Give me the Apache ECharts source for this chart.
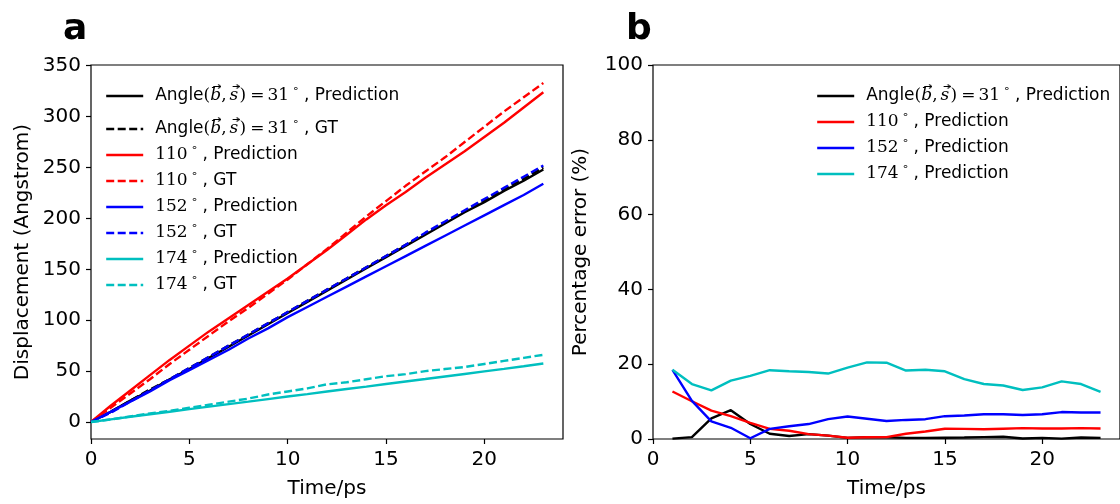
<!DOCTYPE html>
<html>
<head>
<meta charset="utf-8">
<script src="https://cdn.jsdelivr.net/npm/echarts@6/dist/echarts.min.js"></script>
<style>
  html, body { margin: 0; padding: 0; background: #fff; }
  #main { width: 1120px; height: 504px; }
</style>
</head>
<body>
<div id="main"></div>
<script>
// panel a: displacement vs time
var timeA = [0, 1, 2, 3, 4, 5, 6, 7, 8, 9, 10, 11, 12, 13, 14, 15, 16, 17, 18, 19, 20, 21, 22, 23];
var pred31  = [0, 10, 21, 31, 42, 52, 63, 74, 85, 96, 107, 118, 129, 140, 151, 162, 173, 184, 195, 206, 216, 227, 237, 248];
var gt31    = [0, 10, 21, 32, 42, 53, 64, 75, 86, 97, 108, 119, 130, 141, 152, 163, 174, 185, 196, 207, 218, 229, 239, 250];
var pred110 = [0, 16, 31, 46, 61, 75, 89, 102, 115, 128, 141, 155, 169, 184, 199, 213, 226, 240, 253, 266, 280, 294, 309, 324];
var gt110   = [0, 14, 28, 42, 57, 71, 85, 99, 112, 126, 140, 155, 170, 186, 202, 217, 232, 246, 260, 275, 290, 305, 319, 333];
var pred152 = [0, 10, 20, 30, 41, 51, 61, 71, 82, 92, 103, 113, 123, 133, 143, 153, 163, 173, 183, 193, 203, 213, 223, 234];
var gt152   = [0, 9, 20, 31, 42, 53, 64, 75, 86, 97, 108, 119, 130, 141, 152, 163, 174, 186, 197, 208, 219, 230, 241, 252];
var pred174 = [0, 2.6, 5.1, 7.6, 10.1, 12.6, 15.1, 17.6, 20.0, 22.5, 25.0, 27.4, 29.9, 32.4, 34.8, 37.3, 39.8, 42.2, 44.7, 47.2, 49.7, 52.2, 54.8, 57.5];
var gt174   = [0, 2.5, 5.5, 8.5, 11, 14, 17, 20, 23, 27, 30, 33, 37, 39, 42, 45, 47, 50, 52, 54, 57, 60, 63, 66];

// panel b: percentage error vs time
var timeB = [1, 2, 3, 4, 5, 6, 7, 8, 9, 10, 11, 12, 13, 14, 15, 16, 17, 18, 19, 20, 21, 22, 23];
var err31  = [0.1, 0.5, 5.5, 7.7, 4.0, 1.4, 0.8, 1.3, 0.9, 0.3, 0.5, 0.45, 0.3, 0.3, 0.35, 0.4, 0.5, 0.6, 0.15, 0.3, 0.1, 0.4, 0.3];
var err110 = [12.7, 10.1, 7.6, 6.1, 4.3, 2.7, 2.2, 1.3, 0.9, 0.35, 0.45, 0.5, 1.4, 2.0, 2.75, 2.7, 2.6, 2.75, 2.9, 2.8, 2.8, 2.9, 2.8];
var err152 = [18.5, 10.2, 4.7, 3.0, 0.2, 2.7, 3.4, 4.0, 5.3, 6.0, 5.4, 4.8, 5.1, 5.3, 6.1, 6.3, 6.6, 6.6, 6.4, 6.6, 7.2, 7.1, 7.1];
var err174 = [18.5, 14.7, 13.0, 15.6, 16.9, 18.4, 18.1, 17.9, 17.5, 19.1, 20.5, 20.4, 18.3, 18.5, 18.1, 16.0, 14.7, 14.3, 13.1, 13.8, 15.4, 14.7, 12.6];

var xTicks = [0, 5, 10, 15, 20];
var yTicksA = [0, 50, 100, 150, 200, 250, 300, 350];

var angles = ['31', '110', '152', '174'];
var colors = ['#000000', '#ff0000', '#0000ff', '#00bfbf'];

var predNames = angles.map(function (a) { return a + ' Prediction'; });
var gtNames = angles.map(function (a) { return a + ' GT'; });

var dash = [8, 3.5];
var LW = 2.4;

function pairs(xs, ys) {
  return xs.map(function (x, i) { return [x, ys[i]]; });
}

// small vector arrow drawn behind the italic b / s tokens
function arrowCanvas(w, h) {
  var c = document.createElement('canvas');
  c.width = w; c.height = h;
  var g = c.getContext('2d');
  g.strokeStyle = '#000';
  g.lineWidth = 1.1;
  var y = 3.5;
  g.beginPath();
  g.moveTo(3, y); g.lineTo(w - 0.5, y);
  g.moveTo(w - 3, y - 2.2); g.lineTo(w - 0.5, y); g.lineTo(w - 3, y + 2.2);
  g.stroke();
  return c;
}
var arrowB = arrowCanvas(11, 26);
var arrowS = arrowCanvas(10, 26);

function legendLabel(name) {
  var parts = name.split(' ');
  var ang = parts[0], kind = parts[1];
  var head = ang === '31'
    ? '{t|Angle}{m|(}{vb|b}{c|,}{vs|s}{m|)}{eq|=}{m|31}'
    : '{m|' + ang + '}';
  return head + '{d|\u2218}{t|, ' + kind + '}';
}

var LH = 24;
var rich = {
  t: { fontFamily: 'DejaVu Sans', fontSize: 17, color: '#000', lineHeight: LH },
  m: { fontFamily: 'DejaVu Serif', fontSize: 17, color: '#000', lineHeight: LH },
  c: { fontFamily: 'DejaVu Serif', fontSize: 17, color: '#000', lineHeight: LH, padding: [0, 3, 0, 0] },
  eq: { fontFamily: 'DejaVu Serif', fontSize: 17, color: '#000', lineHeight: LH, padding: [0, 3, 0, 4] },
  vb: { fontFamily: 'DejaVu Serif', fontStyle: 'italic', fontSize: 17, color: '#000', lineHeight: LH, width: 11, height: 26, backgroundColor: { image: arrowB } },
  vs: { fontFamily: 'DejaVu Serif', fontStyle: 'italic', fontSize: 17, color: '#000', lineHeight: LH, width: 10, height: 26, backgroundColor: { image: arrowS } },
  d: { fontFamily: 'DejaVu Sans', fontSize: 11, color: '#000', verticalAlign: 'top', lineHeight: LH, padding: [0, 5, 0, 3] }
};

function legendAt(name, left, centerY) {
  return {
    show: true,
    orient: 'vertical',
    left: left,
    top: centerY - LH / 2,
    padding: 0,
    itemWidth: 37,
    itemHeight: 14,
    itemGap: 0,
    selectedMode: false,
    data: [name],
    formatter: legendLabel,
    itemStyle: { opacity: 0 },
    lineStyle: { width: LW },
    textStyle: { color: '#000', fontSize: 17, padding: [0, 0, 0, 7], rich: rich }
  };
}

var seriesList = [];
for (var k = 0; k < 4; k++) {
  var predA = [pred31, pred110, pred152, pred174][k];
  var gtA = [gt31, gt110, gt152, gt174][k];
  seriesList.push({
    name: predNames[k], type: 'line', xAxisIndex: 0, yAxisIndex: 0,
    data: pairs(timeA, predA), symbol: 'none', color: colors[k],
    lineStyle: { width: LW, color: colors[k] }
  });
  seriesList.push({
    name: gtNames[k], type: 'line', xAxisIndex: 0, yAxisIndex: 0,
    data: pairs(timeA, gtA), symbol: 'none', color: colors[k],
    lineStyle: { width: LW, color: colors[k], type: dash }
  });
}
for (var j = 0; j < 4; j++) {
  seriesList.push({
    name: predNames[j], type: 'line', xAxisIndex: 1, yAxisIndex: 1,
    data: pairs(timeB, [err31, err110, err152, err174][j]), symbol: 'none', color: colors[j],
    lineStyle: { width: LW, color: colors[j] }
  });
}

var legendNamesA = [predNames[0], gtNames[0], predNames[1], gtNames[1], predNames[2], gtNames[2], predNames[3], gtNames[3]];
var legendTopsA = [95, 128, 155, 181, 207, 233, 259, 285];
var legendTopsB = [95, 122, 148, 174];

var legends = [];
legendNamesA.forEach(function (n, i) { legends.push(legendAt(n, 105, legendTopsA[i])); });
predNames.forEach(function (n, i) { legends.push(legendAt(n, 816, legendTopsB[i])); });

var axisFont = { fontFamily: 'DejaVu Sans', fontSize: 20, color: '#000' };
var tickStyle = { color: '#000', width: 1.2 };

function xAxisFor(idx) {
  return {
    type: 'value', gridIndex: idx, min: 0, max: 24,
    name: 'Time/ps', nameLocation: 'middle', nameGap: 40,
    nameTextStyle: axisFont,
    axisLine: { show: false, onZero: false },
    axisTick: { show: true, length: 5, lineStyle: tickStyle, customValues: xTicks },
    axisLabel: Object.assign({ margin: 11, customValues: xTicks }, axisFont),
    splitLine: { show: false }
  };
}

var option = {
  animation: false,
  backgroundColor: '#fff',
  textStyle: { fontFamily: 'DejaVu Sans' },
  graphic: [
    { type: 'text', x: 63, y: 30, style: { text: 'a', font: 'bold 36px "DejaVu Sans"', fill: '#000', verticalAlign: 'middle' } },
    { type: 'text', x: 626, y: 30, style: { text: 'b', font: 'bold 36px "DejaVu Sans"', fill: '#000', verticalAlign: 'middle' } }
  ],
  grid: [
    { left: 91, top: 65, width: 472, height: 374, show: true, borderColor: '#000', borderWidth: 1.2 },
    { left: 653, top: 65, width: 473, height: 374, show: true, borderColor: '#000', borderWidth: 1.2 }
  ],
  xAxis: [xAxisFor(0), xAxisFor(1)],
  yAxis: [
    {
      type: 'value', gridIndex: 0, min: -16.7, max: 350.7,
      name: 'Displacement (Angstrom)', nameLocation: 'middle', nameGap: 58,
      nameTextStyle: axisFont,
      axisLine: { show: false, onZero: false },
      axisTick: { show: true, length: 5, lineStyle: tickStyle, customValues: yTicksA },
      axisLabel: Object.assign({ margin: 10, customValues: yTicksA }, axisFont),
      splitLine: { show: false }
    },
    {
      type: 'value', gridIndex: 1, min: 0, max: 100, interval: 20,
      name: 'Percentage error (%)', nameLocation: 'middle', nameGap: 62,
      nameTextStyle: axisFont,
      axisLine: { show: false, onZero: false },
      axisTick: { show: true, length: 5, lineStyle: tickStyle },
      axisLabel: Object.assign({ margin: 10 }, axisFont),
      splitLine: { show: false }
    }
  ],
  legend: legends,
  series: seriesList
};

var chart = echarts.init(document.getElementById('main'), null, { renderer: 'canvas' });
chart.setOption(option);
</script>
</body>
</html>
